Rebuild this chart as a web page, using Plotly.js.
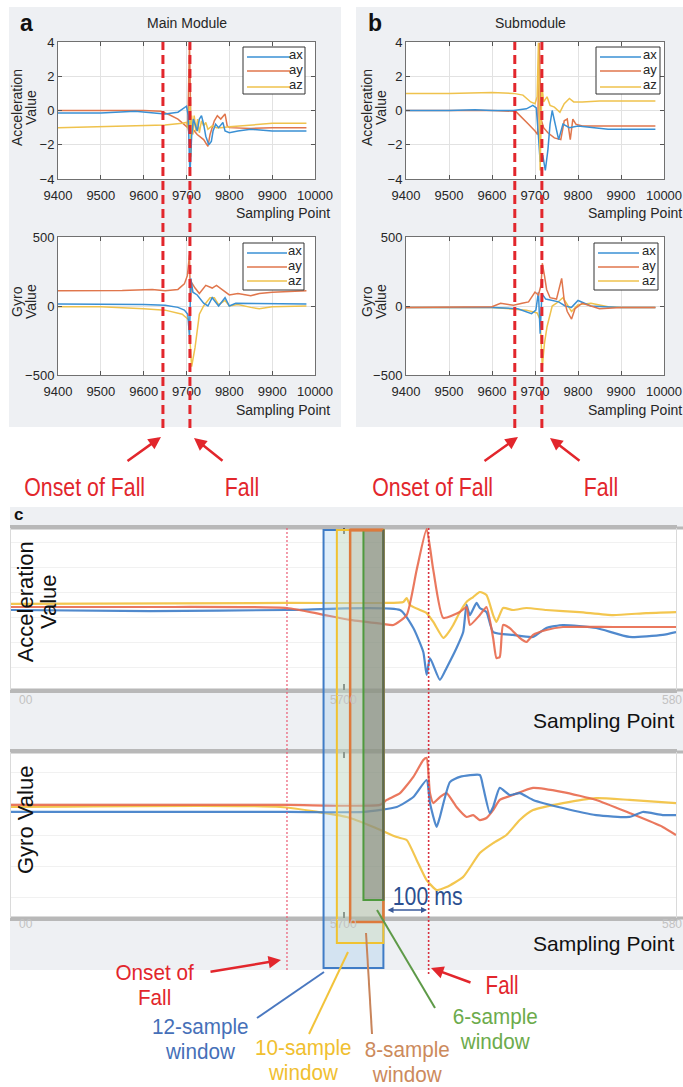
<!DOCTYPE html>
<html><head><meta charset="utf-8">
<script src="https://cdn.plot.ly/plotly-3.0.1.min.js"></script>
<style>html,body{margin:0;padding:0;background:#fff;}#chart{width:683px;height:1087px;}</style>
</head><body><div id="chart"></div>
<script>
// ---------------- DATA ----------------
// Panel a (Main Module) – acceleration
const mainAccAxX = [9400,9500,9580,9620,9650,9680,9695,9700,9704,9708,9712,9716,9720,9725,9730,9735,9740,9745,9752,9758,9762,9768,9775,9785,9790,9800,9820,9850,9900,9950,9980];
const mainAccAxY = [-0.15,-0.15,-0.05,-0.15,-0.2,-0.1,0.15,0.25,-0.3,-3.8,-1.5,-0.5,-0.8,-1.2,-0.5,-0.3,-0.8,-1.5,-2.0,-1.8,-1.2,-0.8,-1.0,-0.7,-1.2,-1.3,-1.2,-1.1,-1.2,-1.2,-1.2];
const mainAccAyX = [9400,9500,9600,9640,9660,9680,9695,9703,9707,9710,9715,9725,9740,9750,9755,9760,9765,9772,9780,9790,9795,9800,9850,9900,9980];
const mainAccAyY = [0,0,0,-0.05,-0.25,-0.5,-0.8,-1.0,3.95,-0.6,-1.1,-1.4,-1.7,-2.1,-1.4,-1.0,-0.6,-0.3,-0.5,-0.2,-0.9,-1.0,-1.05,-1.0,-1.0];
const mainAccAzX = [9400,9500,9600,9650,9690,9700,9705,9708,9710,9712,9715,9718,9722,9726,9730,9735,9740,9745,9750,9760,9770,9780,9800,9850,9900,9980];
const mainAccAzY = [-1.0,-0.95,-0.9,-0.85,-0.75,-0.7,-1.2,0.8,-2.7,-0.3,-1.4,-0.3,-1.2,-0.5,-1.3,-0.6,-0.9,-0.7,-1.1,-0.9,-1.0,-1.0,-0.95,-0.85,-0.75,-0.75];
// Panel a (Main Module) – gyro
const mainGyrAxX = [9400,9500,9600,9650,9680,9695,9703,9707,9710,9715,9725,9740,9750,9760,9775,9790,9800,9815,9900,9980];
const mainGyrAxY = [15,15,10,5,-10,-30,-60,-220,200,100,80,20,0,60,0,60,0,20,15,15];
const mainGyrAyX = [9400,9500,9550,9620,9650,9680,9695,9702,9707,9709,9712,9720,9730,9745,9760,9770,9790,9800,9820,9850,9870,9900,9980];
const mainGyrAyY = [110,110,112,120,110,120,160,220,370,40,170,130,90,150,130,150,100,80,90,75,90,100,110];
const mainGyrAzX = [9400,9500,9600,9650,9690,9705,9712,9720,9730,9740,9755,9765,9775,9790,9800,9820,9850,9870,9900,9980];
const mainGyrAzY = [-5,-5,-20,-30,-60,-100,-440,-300,-60,0,60,60,10,40,0,10,-10,-20,-5,0];
// Panel b (Submodule) – acceleration
const subAccAxX = [9400,9500,9560,9600,9650,9680,9695,9703,9708,9712,9718,9724,9730,9735,9740,9748,9755,9765,9780,9800,9830,9870,9900,9980];
const subAccAxY = [0,0,0.05,0,0,0.1,0.3,0.15,-1.5,-3.0,-2.6,-3.5,-2.3,-0.8,0,-1.0,-1.7,-0.8,-1.0,-0.9,-1.0,-1.1,-1.1,-1.1];
const subAccAyX = [9400,9500,9600,9655,9670,9685,9700,9706,9710,9714,9720,9730,9745,9760,9768,9775,9782,9788,9795,9810,9850,9900,9980];
const subAccAyY = [0,0,0,-0.05,-0.4,-0.8,-1.2,-1.4,3.95,-0.5,-1.0,-1.3,-1.6,-1.7,-0.6,-0.5,-1.7,-0.5,-0.8,-0.9,-0.9,-0.9,-0.9];
const subAccAzX = [9400,9500,9600,9650,9672,9690,9700,9705,9708,9712,9716,9720,9728,9735,9745,9758,9768,9780,9790,9810,9850,9900,9980];
const subAccAzY = [1.0,1.0,1.05,1.0,0.9,0.5,0.4,0.8,3.95,-3.5,1.5,0.5,0.8,0.3,0.2,-0.1,0.4,0.7,0.5,0.5,0.55,0.55,0.55];
// Panel b (Submodule) – gyro
const subGyrAxX = [9400,9500,9600,9660,9680,9692,9702,9708,9712,9716,9725,9740,9755,9770,9785,9800,9815,9830,9860,9900,9980];
const subGyrAxY = [-10,-10,-10,-20,-40,-55,-30,100,-200,90,50,40,30,0,-10,40,20,0,-5,-10,-10];
const subGyrAyX = [9400,9500,9600,9620,9650,9670,9685,9700,9708,9714,9717,9722,9727,9735,9750,9762,9768,9775,9785,9793,9810,9850,9900,9980];
const subGyrAyY = [-10,-10,-5,20,5,20,30,100,80,150,310,220,120,60,50,200,40,-40,-95,-20,20,-20,-10,-10];
const subGyrAzX = [9400,9500,9600,9680,9705,9712,9717,9722,9728,9740,9750,9765,9775,9785,9800,9830,9870,9900,9980];
const subGyrAzY = [-10,-10,-10,-30,-50,-100,-440,-270,-150,0,20,60,10,-40,10,20,-5,-10,-10];
// onset / fall sample points (a, b)
const mainEvents = [9645, 9708];
const subEvents = [9653, 9716];

// Panel c – acceleration
const cAccAxX = [5600,5642,5683,5717,5721,5724,5725,5726,5729,5731,5734,5736,5737,5738,5740,5741,5743,5745,5751,5757,5761,5766,5776,5786,5796,5800];
const cAccAxY = [-0.05,-0.1,-0.05,-0.05,-0.94,-2.12,-3.26,-2.42,-3.5,-2.91,-1.93,-1.14,0.2,-0.3,0.3,0.05,-0.15,-1.14,-1.28,-1.38,-0.94,-0.79,-0.94,-1.38,-1.28,-1.14];
const cAccAyX = [5600,5642,5683,5693,5702,5712,5715,5719,5722,5725,5727,5730,5735,5737,5738,5741,5743,5745,5746,5747,5748,5750,5753,5755,5757,5761,5766,5781,5800];
const cAccAyY = [0.1,0.1,0.05,-0.25,-0.54,-0.74,-0.79,-0.3,1.93,3.95,1.93,-0.44,-0.15,0.1,-0.79,-0.3,0.1,-1.43,-2.42,-2.37,-0.79,-0.94,-1.43,-1.63,-1.28,-1.04,-0.89,-0.89,-0.89];
const cAccAzX = [5600,5683,5712,5718,5719,5720,5723,5725,5727,5730,5731,5733,5735,5737,5739,5741,5743,5745,5746,5748,5751,5755,5761,5771,5781,5791,5800];
const cAccAzY = [0.25,0.3,0.3,0.35,0.54,0.2,-0.05,-0.2,-0.64,-1.43,-1.28,-0.79,-0.15,0.35,0.59,0.84,0.69,-0.3,-0.64,0.05,-0.05,0.05,-0.05,-0.15,-0.3,-0.2,-0.15];
// Panel c – gyro
const cGyrAxX = [5600,5683,5706,5716,5721,5725,5726,5728,5729,5732,5735,5741,5742,5744,5745,5747,5750,5753,5757,5766,5776,5786,5790,5796,5800];
const cGyrAxY = [1.11,1.11,1.11,1.35,1.83,2.65,1.54,0.39,0.87,2.55,2.8,2.89,2.31,1.06,1.35,2.27,1.93,2.02,1.69,1.3,0.96,0.87,1.11,0.96,0.96];
const cGyrAyX = [5600,5683,5711,5713,5717,5721,5724,5725,5726,5727,5729,5731,5734,5737,5739,5741,5743,5745,5747,5751,5757,5766,5776,5786,5796,5800];
const cGyrAyY = [1.45,1.45,1.45,1.69,2.02,2.8,3.61,3.71,2.02,1.54,1.83,2.02,1.35,0.87,0.96,0.72,0.82,1.2,1.69,1.93,2.27,2.07,1.69,1.06,0.39,0];
const cGyrAzX = [5600,5681,5701,5709,5716,5719,5722,5725,5728,5731,5736,5741,5745,5749,5753,5757,5766,5776,5786,5800];
const cGyrAzY = [1.35,1.35,0.87,0.39,-0.1,-0.24,-1.2,-2.17,-2.65,-2.51,-2.02,-0.87,-0.39,0,0.72,1.2,1.54,1.78,1.69,1.54];
// onset / fall and sliding windows (c)
const cEvents = [5683, 5725.6];
const windowStarts = [5694, 5698, 5702, 5706];   // 12, 10, 8, 6-sample windows
const windowEnd = 5712;
const cTickVals = [5600, 5700, 5800];
const cTickText = ['00', '5700', '580'];
const seriesNames = ['ax', 'ay', 'az'];

// ---------------- LAYOUT HELPERS ----------------
const W = 683, H = 1087;
const X = p => p / W;
const Y = p => 1 - p / H;
const FONT = 'Liberation Sans, Arial, Helvetica, sans-serif';
const C_AX = '#3a90d4', C_AY = '#e0764c', C_AZ = '#efc24c';
const CC_AX = '#3d7cc8', CC_AY = '#e8694c', CC_AZ = '#f2c03c';
const RED = '#e2262c';
const BL = 406, BR = 664;   // panel b plot edges (px)

function tr(x, y, color, xa, ya, w, spline) {
  return {type: 'scatter', mode: 'lines', x: x, y: y, xaxis: xa, yaxis: ya, opacity: spline ? 0.9 : 1,
    line: {color: color, width: w, shape: spline ? 'spline' : 'linear', smoothing: 0.5},
    hoverinfo: 'skip', showlegend: false};
}
const traces = [
  tr(mainAccAyX, mainAccAyY, C_AY, 'x', 'y', 1.5), tr(mainAccAzX, mainAccAzY, C_AZ, 'x', 'y', 1.5), tr(mainAccAxX, mainAccAxY, C_AX, 'x', 'y', 1.5),
  tr(mainGyrAyX, mainGyrAyY, C_AY, 'x2', 'y2', 1.5), tr(mainGyrAzX, mainGyrAzY, C_AZ, 'x2', 'y2', 1.5), tr(mainGyrAxX, mainGyrAxY, C_AX, 'x2', 'y2', 1.5),
  tr(subAccAyX, subAccAyY, C_AY, 'x3', 'y3', 1.5), tr(subAccAxX, subAccAxY, C_AX, 'x3', 'y3', 1.5), tr(subAccAzX, subAccAzY, C_AZ, 'x3', 'y3', 1.5),
  tr(subGyrAzX, subGyrAzY, C_AZ, 'x4', 'y4', 1.5), tr(subGyrAxX, subGyrAxY, C_AX, 'x4', 'y4', 1.5), tr(subGyrAyX, subGyrAyY, C_AY, 'x4', 'y4', 1.5),
  tr(cAccAzX, cAccAzY, CC_AZ, 'x5', 'y5', 2.2, true), tr(cAccAxX, cAccAxY, CC_AX, 'x5', 'y5', 2.2, true), tr(cAccAyX, cAccAyY, CC_AY, 'x5', 'y5', 2.2, true),
  tr(cGyrAzX, cGyrAzY, CC_AZ, 'x6', 'y6', 2.2, true), tr(cGyrAyX, cGyrAyY, CC_AY, 'x6', 'y6', 2.2, true), tr(cGyrAxX, cGyrAxY, CC_AX, 'x6', 'y6', 2.2, true)
];

function abX(l, r, anchor) {
  return {domain: [X(l), X(r)], anchor: anchor, range: [9400, 10000], tick0: 9400, dtick: 100, tickformat: 'd',
    ticklabeloverflow: 'allow', ticklabelstandoff: 4,
    ticks: 'inside', ticklen: 4, tickcolor: '#555', showgrid: true, gridcolor: '#e2e2e2',
    showline: true, linecolor: '#707070', linewidth: 1, mirror: 'ticks', zeroline: false,
    tickfont: {family: FONT, size: 13, color: '#262626'}, fixedrange: true};
}
function abY(t, b, anchor, rng, dt) {
  return {domain: [Y(b), Y(t)], anchor: anchor, range: rng, tick0: 0, dtick: dt, tickformat: 'd',
    ticks: 'inside', ticklen: 4, tickcolor: '#555', showgrid: true, gridcolor: '#e2e2e2',
    showline: true, linecolor: '#707070', linewidth: 1, mirror: 'ticks', zeroline: false,
    tickfont: {family: FONT, size: 13, color: '#262626'}, fixedrange: true};
}
function cX(anchor) {
  return {domain: [X(11), X(676)], anchor: anchor, range: [5600, 5800], tickvals: cTickVals,
    showticklabels: false,
    ticks: 'inside', ticklen: 6, tickwidth: 2, tickcolor: '#555', showgrid: false,
    showline: true, linecolor: '#b8b8b8', linewidth: 3, mirror: 'ticks', zeroline: false, fixedrange: true};
}
function cY(t, b, anchor, t0, dt) {
  return {domain: [Y(b), Y(t)], anchor: anchor, range: [-4, 4], showticklabels: false, ticks: '',
    showgrid: true, gridcolor: '#f1f1f1', tick0: t0, dtick: dt,
    showline: true, linecolor: '#dadada', linewidth: 1, mirror: true, zeroline: false, fixedrange: true};
}

// ---------------- SHAPES ----------------
const shapes = [];
function prect(x0, y0, x1, y1, fill, line, layer) {
  shapes.push({type: 'rect', xref: 'paper', yref: 'paper', x0: X(x0), x1: X(x1), y0: Y(y1), y1: Y(y0),
    fillcolor: fill, line: line || {width: 0}, layer: layer || 'above'});
}
function pline(x0, y0, x1, y1, color, width, layer, dash) {
  shapes.push({type: 'line', xref: 'paper', yref: 'paper', x0: X(x0), x1: X(x1), y0: Y(y0), y1: Y(y1),
    line: {color: color, width: width, dash: dash || 'solid'}, layer: layer || 'above'});
}
// backgrounds
prect(9, 7, 341, 427, '#eef0f3', null, 'below');
prect(356, 7, 683, 427, '#eef0f3', null, 'below');
prect(10, 507, 683, 970, '#eef0f3', null, 'below');
prect(58, 42, 315, 179, '#ffffff', null, 'below');
prect(58, 237, 315, 375, '#ffffff', null, 'below');
prect(BL, 42, BR, 179, '#ffffff', null, 'below');
prect(BL, 237, BR, 375, '#ffffff', null, 'below');
prect(10, 528, 683, 690, '#ffffff', null, 'below');
prect(10, 752, 683, 918, '#ffffff', null, 'below');
[528, 690, 752, 918].forEach(y => pline(10, y, 683, y, '#b8b8b8', 3, 'below'));

// legends
function legend(l, t, r, b, lx0, lx1, ly) {
  prect(l, t, r, b, '#ffffff', {color: '#333', width: 1}, 'above');
  const cols = [C_AX, C_AY, C_AZ];
  ly.forEach((y, i) => pline(lx0, y, lx1, y, cols[i], 1.6, 'above'));
}
legend(243, 47, 305, 94, 247, 290, [57, 71, 87]);
legend(243, 243, 304, 290, 247, 287, [253, 267, 281]);
legend(596, 47, 660, 94, 600, 641, [57, 71, 87]);
legend(594, 243, 658, 290, 598, 639, [253, 267, 281]);

// onset / fall dashed lines (a, b)
mainEvents.forEach(v => shapes.push({type: 'line', xref: 'x', yref: 'paper', x0: v, x1: v, y0: Y(428), y1: Y(42),
  line: {color: RED, width: 3, dash: '9px,5px'}, layer: 'above'}));
subEvents.forEach(v => shapes.push({type: 'line', xref: 'x3', yref: 'paper', x0: v, x1: v, y0: Y(428), y1: Y(42),
  line: {color: RED, width: 3, dash: '9px,5px'}, layer: 'above'}));

// windows (c)
const winStyle = [
  {bottom: 968, line: '#3f7cc6', fill: 'rgba(150,200,240,0.30)', w: 2},
  {bottom: 943, line: '#f0c232', fill: 'rgba(225,228,170,0.30)', w: 2},
  {bottom: 922, line: '#dd7a3c', fill: 'rgba(150,145,125,0.22)', w: 2.5},
  {bottom: 900, line: '#4f9a3e', fill: 'rgba(105,108,95,0.42)', w: 2}
];
windowStarts.forEach((s, i) => shapes.push({type: 'rect', xref: 'x5', yref: 'paper', x0: s, x1: windowEnd,
  y0: Y(winStyle[i].bottom), y1: Y(530), fillcolor: winStyle[i].fill,
  line: {color: winStyle[i].line, width: winStyle[i].w}, layer: 'above'}));
shapes.push({type: 'line', xref: 'x5', yref: 'paper', x0: windowStarts[2], x1: windowEnd, y0: Y(530), y1: Y(530),
  line: {color: '#dd7a3c', width: 3}, layer: 'above'});
shapes.push({type: 'line', xref: 'x5', yref: 'paper', x0: windowEnd, x1: windowEnd, y0: Y(900), y1: Y(530),
  line: {color: '#5f6656', width: 2}, layer: 'above'});
// onset / fall dotted lines (c)
shapes.push({type: 'line', xref: 'x5', yref: 'paper', x0: cEvents[0], x1: cEvents[0], y0: Y(970), y1: Y(528),
  line: {color: '#ea5a72', width: 1.2, dash: '2px,2px'}, layer: 'above'});
shapes.push({type: 'line', xref: 'x5', yref: 'paper', x0: cEvents[1], x1: cEvents[1], y0: Y(974), y1: Y(528),
  line: {color: '#d9303f', width: 1.6, dash: '2px,2px'}, layer: 'above'});
// pointer lines
pline(324, 972, 257, 1018, '#4a78c0', 2);
pline(348, 952, 309, 1034, '#f2c33a', 2);
pline(366, 933, 372, 1034, '#c8845a', 2);
pline(377, 910, 435, 1008, '#5e9a48', 2);

// ---------------- ANNOTATIONS ----------------
const ann = [];
const post = {};   // annotation index -> {gap: line spacing in em, sx: horizontal squeeze}
function txt(text, px, py, size, color, opts) {
  ann.push(Object.assign({xref: 'paper', yref: 'paper', x: X(px), y: Y(py), text: text, showarrow: false,
    font: {family: FONT, size: size, color: color}, xanchor: 'center', yanchor: 'middle', borderpad: 0}, opts || {}));
  return ann.length - 1;
}
function ntxt(text, px, py, size, color, opts) {
  post[txt(text, px, py, size, color, opts)] = {sx: 0.82};
}
// two-line narrow label: (px, first-line centre py); lines 25px apart after tightening
function ntxt2(l1, l2, px, py, color) {
  const size = 22;
  post[txt(l1 + '<br>' + l2, px, py + 0.65 * size, size, color)] = {sx: 0.94, gap: 25 / size};
}
// tightly stacked lines (first line centre at first, lines `gapPx` apart)
function stack(lines, px, first, size, color, gapPx, opts) {
  const n = lines.length;
  const centre = first + (n - 1) * 0.65 * size;
  const o = Object.assign({}, opts || {});
  let x = px, y = centre;
  if (o.textangle === -90) { x = first + (n - 1) * 0.65 * size; y = px; }
  post[txt(lines.join('<br>'), x, y, size, color, o)] = {gap: gapPx / size};
}
function arrow(hx, hy, tx, ty, color, width, opts) {
  ann.push(Object.assign({xref: 'paper', yref: 'paper', x: X(hx), y: Y(hy), ax: tx - hx, ay: ty - hy,
    axref: 'pixel', ayref: 'pixel', text: '', showarrow: true, arrowhead: 2, arrowsize: 1,
    arrowwidth: width, arrowcolor: color}, opts || {}));
}
const DARK = '#262626';
txt('<b>a</b>', 26, 23, 23, '#111');
txt('<b>b</b>', 375, 23, 23, '#111');
txt('Main Module', 187, 23, 14, DARK);
txt('Submodule', 530, 23, 14, DARK);
// rotated two-line axis titles: stack(lines, yCentre, xFirstLine, ...)
[17, 367].forEach(x0 => {
  stack(['Acceleration', 'Value'], 108, x0, 14, DARK, 14, {textangle: -90});
  stack(['Gyro', 'Value'], 302, x0, 14, DARK, 14, {textangle: -90});
});
txt('Sampling Point', 331, 213, 14, DARK, {xanchor: 'right'});
txt('Sampling Point', 331, 410, 14, DARK, {xanchor: 'right'});
txt('Sampling Point', 683, 213, 14, DARK, {xanchor: 'right'});
txt('Sampling Point', 683, 410, 14, DARK, {xanchor: 'right'});
// legend texts
stack(seriesNames, 304, 55, 13, DARK, 15, {xanchor: 'right', align: 'right'});
stack(seriesNames, 303, 251, 13, DARK, 15, {xanchor: 'right', align: 'right'});
stack(seriesNames, 658, 55, 13, DARK, 15, {xanchor: 'right', align: 'right'});
stack(seriesNames, 657, 251, 13, DARK, 15, {xanchor: 'right', align: 'right'});
// arrows a, b
arrow(161, 437, 126, 462, RED, 2.5);
arrow(194, 438, 224, 462, RED, 2.5);
arrow(518, 437, 483, 462, RED, 2.5);
arrow(550, 438, 581, 462, RED, 2.5);
ntxt('Onset of Fall', 84, 487, 26, RED);
ntxt('Fall', 242, 487, 26, RED);
ntxt('Onset of Fall', 432, 487, 26, RED);
ntxt('Fall', 601, 487, 26, RED);
// panel c texts
txt('<b>c</b>', 18, 514, 17, '#111');
stack(['Acceleration', 'Value'], 602, 26, 22, '#111', 23, {textangle: -90});
txt('Gyro Value', 25, 820, 22, '#111', {textangle: -90});
txt('Sampling Point', 675, 720, 21, '#111', {xanchor: 'right'});
txt('Sampling Point', 675, 943, 21, '#111', {xanchor: 'right'});
// c tick labels (light, partly cropped in the source)
[[700], [924]].forEach(r => {
  txt(cTickText[0], 26, r[0], 12, '#c2c2c2');
  txt(cTickText[1], 343, r[0], 12, '#c2c2c2');
  txt(cTickText[2], 683, r[0], 12, '#c2c2c2', {xanchor: 'right'});
});
ntxt('100 ms', 427, 896, 26, '#2c4f90');
arrow(427, 910, 386, 910, '#3a5a9a', 1.5, {arrowside: 'end+start', arrowsize: 0.8});
arrow(281, 960, 209, 972, RED, 2.5);
arrow(431, 968, 472, 983, RED, 2.5);
ntxt2('Onset of', 'Fall', 155, 973, RED);
ntxt('Fall', 502, 985, 25, RED);
ntxt2('12-sample', 'window', 200, 1027, '#4670b8');
ntxt2('10-sample', 'window', 303, 1048, '#f0c030');
ntxt2('8-sample', 'window', 407, 1050, '#cc8a5c');
ntxt2('6-sample', 'window', 495, 1017, '#6cab4c');

const layout = {
  width: W, height: H, margin: {l: 0, r: 0, t: 0, b: 0},
  paper_bgcolor: '#ffffff', plot_bgcolor: 'rgba(0,0,0,0)',
  font: {family: FONT, color: DARK}, showlegend: false,
  xaxis: abX(58, 315, 'y'), yaxis: abY(42, 179, 'x', [-4, 4], 2),
  xaxis2: abX(58, 315, 'y2'), yaxis2: abY(237, 375, 'x2', [-500, 500], 500),
  xaxis3: abX(BL, BR, 'y3'), yaxis3: abY(42, 179, 'x3', [-4, 4], 2),
  xaxis4: abX(BL, BR, 'y4'), yaxis4: abY(237, 375, 'x4', [-500, 500], 500),
  xaxis5: cX('y5'), yaxis5: cY(528, 690, 'x5', -0.44, 1.235),
  xaxis6: cX('y6'), yaxis6: cY(752, 918, 'x6', 0, 1.5),
  shapes: shapes, annotations: ann
};
// tighten line spacing / condense lettering of selected labels
function finish() {
  document.querySelectorAll('#chart g.annotation').forEach(g => {
    const p = post[+g.getAttribute('data-index')];
    if (!p) return;
    const t = g.querySelector('text.annotation-text');
    if (!t) return;
    if (p.gap) t.querySelectorAll('tspan.line').forEach((ts, i) => { if (i > 0) ts.setAttribute('dy', (i * p.gap).toFixed(3) + 'em'); });
    if (p.sx) {
      const x = parseFloat(t.getAttribute('x')) || 0;
      t.setAttribute('transform', 'translate(' + x + ',0) scale(' + p.sx + ',1) translate(' + (-x) + ',0)');
    }
  });
}
Plotly.newPlot('chart', traces, layout, {staticPlot: true, displayModeBar: false}).then(finish);
</script></body></html>
